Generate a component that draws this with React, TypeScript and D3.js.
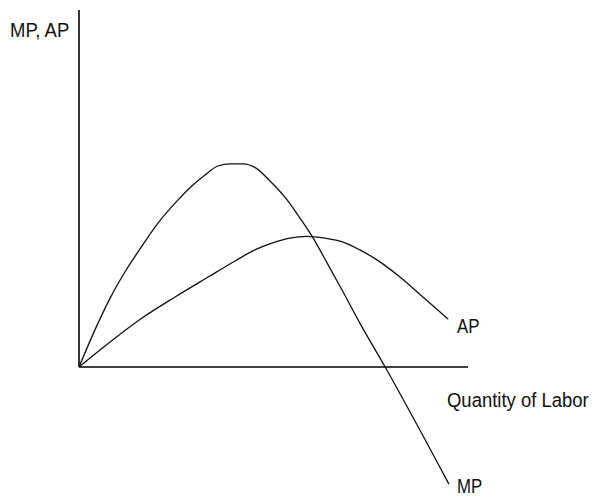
import React from "react";
import * as d3 from "d3";

// Quantity of labor (arbitrary units) and product values
const mpLabor = [0, 0.41, 0.8, 1.18, 1.62, 2.03, 2.47, 2.9, 3.24, 3.57, 3.88, 4.22, 4.52, 4.91, 5.35, 5.68, 6.02, 6.38, 6.79, 7.22, 7.87, 9.51];
const mpValues = [0, 1.04, 1.93, 2.66, 3.39, 4.03, 4.59, 5.07, 5.38, 5.63, 5.69, 5.69, 5.59, 5.21, 4.68, 4.17, 3.61, 2.91, 2.1, 1.23, 0, -3.28];

const apLabor = [0, 0.8, 1.62, 2.47, 3.32, 4.01, 4.52, 4.96, 5.42, 5.86, 6.32, 6.79, 7.22, 7.66, 8.25, 8.84, 9.49];
const apValues = [0, 0.7, 1.37, 1.96, 2.52, 2.97, 3.28, 3.47, 3.61, 3.66, 3.61, 3.5, 3.28, 3.0, 2.52, 1.96, 1.34];

const yAxisLabel = "MP, AP";
const xAxisLabel = "Quantity of Labor";
const mpLabel = "MP";
const apLabel = "AP";

const W = 594;
const H = 502;

export default function App() {
  const x = d3.scaleLinear().domain([0, 10]).range([79, 468]);
  const y = d3.scaleLinear().domain([0, 10]).range([367, 10]);

  const line = d3
    .line<[number, number]>()
    .x((d) => x(d[0]))
    .y((d) => y(d[1]))
    .curve(d3.curveMonotoneX);

  const mpPts: [number, number][] = mpLabor.map((l, i) => [l, mpValues[i]]);
  const apPts: [number, number][] = apLabor.map((l, i) => [l, apValues[i]]);

  const textProps = {
    fontFamily: "'Liberation Sans', Arial, sans-serif",
    fontSize: 21,
    fill: "#111",
  };

  return (
    <svg
      width={W}
      height={H}
      style={{ position: "absolute", left: 0, top: 0, background: "#fff" }}
    >
      <rect width={W} height={H} fill="#fff" />
      {/* axes */}
      <line x1={x(0)} y1={y(0)} x2={x(0)} y2={y(10)} stroke="#000" strokeWidth={1.6} />
      <line x1={x(0)} y1={y(0)} x2={x(10)} y2={y(0)} stroke="#000" strokeWidth={1.6} />

      {/* curves */}
      <path d={line(mpPts) || ""} fill="none" stroke="#111" strokeWidth={1.3} />
      <path d={line(apPts) || ""} fill="none" stroke="#111" strokeWidth={1.3} />

      {/* labels (horizontally condensed like the original narrow face) */}
      <text transform="translate(10,37) scale(0.88,1)" {...textProps}>{yAxisLabel}</text>
      <text transform="translate(447,407) scale(0.88,1)" {...textProps}>{xAxisLabel}</text>
      <text transform="translate(457,333) scale(0.8,1)" {...textProps}>{apLabel}</text>
      <text transform="translate(457,493) scale(0.8,1)" {...textProps}>{mpLabel}</text>
    </svg>
  );
}
